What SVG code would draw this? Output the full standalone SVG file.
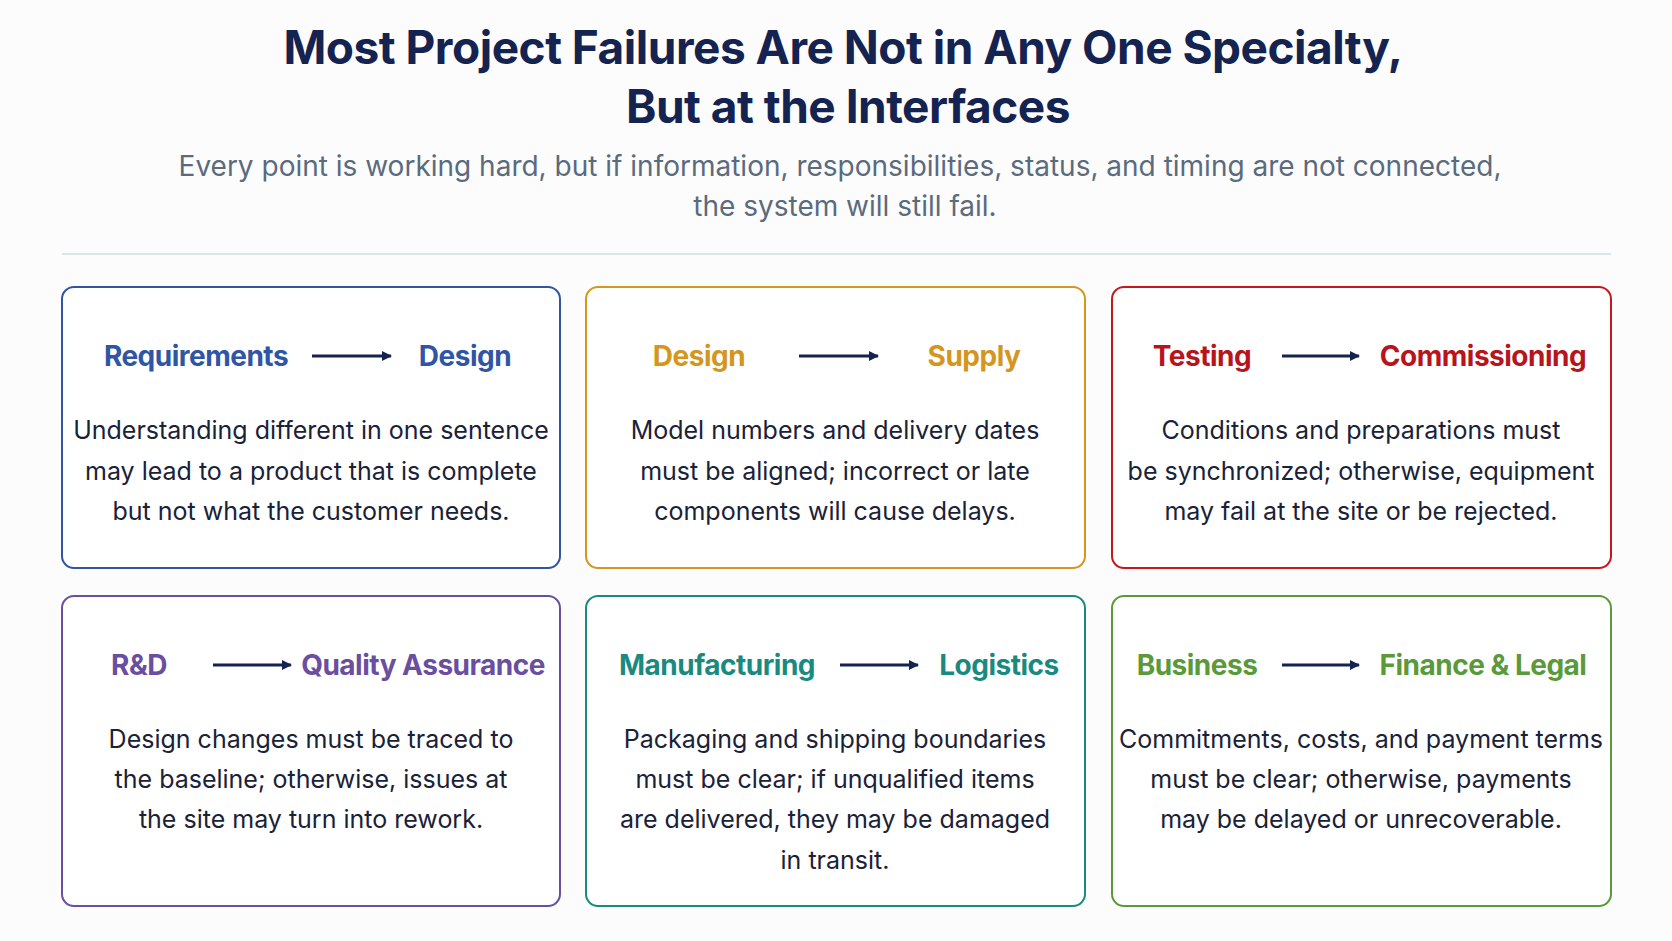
<svg xmlns="http://www.w3.org/2000/svg" width="1672" height="941" viewBox="0 0 1672 941">
<style>
.t{font-family:Inter,"Noto Sans",sans-serif;font-weight:700;font-size:46px;fill:#14234f;text-anchor:middle;letter-spacing:-0.5px}
.s{font-family:Inter,"Noto Sans",sans-serif;font-size:28px;fill:#5a6b7d;text-anchor:middle}
.h{font-family:Inter,"Noto Sans",sans-serif;font-weight:700;font-size:28px;text-anchor:middle;letter-spacing:-0.5px}
.b{font-family:Inter,"Noto Sans",sans-serif;font-size:25px;fill:#1a2238;text-anchor:middle}
.box{fill:#fff;stroke-width:2}
.ar{stroke:#14234f;stroke-width:3;marker-end:url(#m)}
</style>
<defs><marker id="m" markerWidth="10" markerHeight="10" refX="9" refY="5" orient="auto" markerUnits="userSpaceOnUse" viewBox="0 0 10 10"><path d="M0,0 L10,5 L0,10 Z" fill="#14234f"/></marker></defs>
<rect width="1672" height="941" fill="#fcfcfd"/>
<text class="t" x="843" y="64">Most Project Failures Are Not in Any One Specialty,</text>
<text class="t" x="848" y="123">But at the Interfaces</text>
<text class="s" x="840" y="176">Every point is working hard, but if information, responsibilities, status, and timing are not connected,</text>
<text class="s" x="845" y="216">the system will still fail.</text>
<line x1="62" y1="254" x2="1611" y2="254" stroke="#dde3ea" stroke-width="2"/>
<g id="n1"><rect class="box" x="62" y="287" width="498" height="281" rx="12" stroke="#2f55a4"/>
<text class="h" x="196" y="366" fill="#2f55a4">Requirements</text><text class="h" x="465" y="366" fill="#2f55a4">Design</text>
<text class="b" x="311" y="439">Understanding different in one sentence</text><text class="b" x="311" y="480">may lead to a product that is complete</text><text class="b" x="311" y="520">but not what the customer needs.</text></g>
<g id="n2"><rect class="box" x="586" y="287" width="499" height="281" rx="12" stroke="#d4961e"/>
<text class="h" x="699" y="366" fill="#d4961e">Design</text><text class="h" x="974" y="366" fill="#d4961e">Supply</text>
<text class="b" x="835" y="439">Model numbers and delivery dates</text><text class="b" x="835" y="480">must be aligned; incorrect or late</text><text class="b" x="835" y="520">components will cause delays.</text></g>
<g id="n3"><rect class="box" x="1112" y="287" width="499" height="281" rx="12" stroke="#c8161e"/>
<text class="h" x="1202" y="366" fill="#b8141c">Testing</text><text class="h" x="1483" y="366" fill="#b8141c">Commissioning</text>
<text class="b" x="1361" y="439">Conditions and preparations must</text><text class="b" x="1361" y="480">be synchronized; otherwise, equipment</text><text class="b" x="1361" y="520">may fail at the site or be rejected.</text></g>
<g id="n4"><rect class="box" x="62" y="596" width="498" height="310" rx="12" stroke="#6a4ea0"/>
<text class="h" x="139" y="675" fill="#6a4ea0">R&amp;D</text><text class="h" x="423" y="675" fill="#6a4ea0">Quality Assurance</text>
<text class="b" x="311" y="748">Design changes must be traced to</text><text class="b" x="311" y="788">the baseline; otherwise, issues at</text><text class="b" x="311" y="828">the site may turn into rework.</text></g>
<g id="n5"><rect class="box" x="586" y="596" width="499" height="310" rx="12" stroke="#1a8a80"/>
<text class="h" x="717" y="675" fill="#1a8a80">Manufacturing</text><text class="h" x="999" y="675" fill="#1a8a80">Logistics</text>
<text class="b" x="835" y="748">Packaging and shipping boundaries</text><text class="b" x="835" y="788">must be clear; if unqualified items</text><text class="b" x="835" y="828">are delivered, they may be damaged</text><text class="b" x="835" y="869">in transit.</text></g>
<g id="n6"><rect class="box" x="1112" y="596" width="499" height="310" rx="12" stroke="#5a9a3a"/>
<text class="h" x="1197" y="675" fill="#5a9a3a">Business</text><text class="h" x="1483" y="675" fill="#5a9a3a">Finance &amp; Legal</text>
<text class="b" x="1361" y="748">Commitments, costs, and payment terms</text><text class="b" x="1361" y="788">must be clear; otherwise, payments</text><text class="b" x="1361" y="828">may be delayed or unrecoverable.</text></g>
<g id="connectors">
<line class="ar" x1="312" y1="356" x2="391" y2="356"/>
<line class="ar" x1="799" y1="356" x2="878" y2="356"/>
<line class="ar" x1="1282" y1="356" x2="1359" y2="356"/>
<line class="ar" x1="213" y1="665" x2="291" y2="665"/>
<line class="ar" x1="840" y1="665" x2="918" y2="665"/>
<line class="ar" x1="1282" y1="665" x2="1359" y2="665"/>
</g>
</svg>
